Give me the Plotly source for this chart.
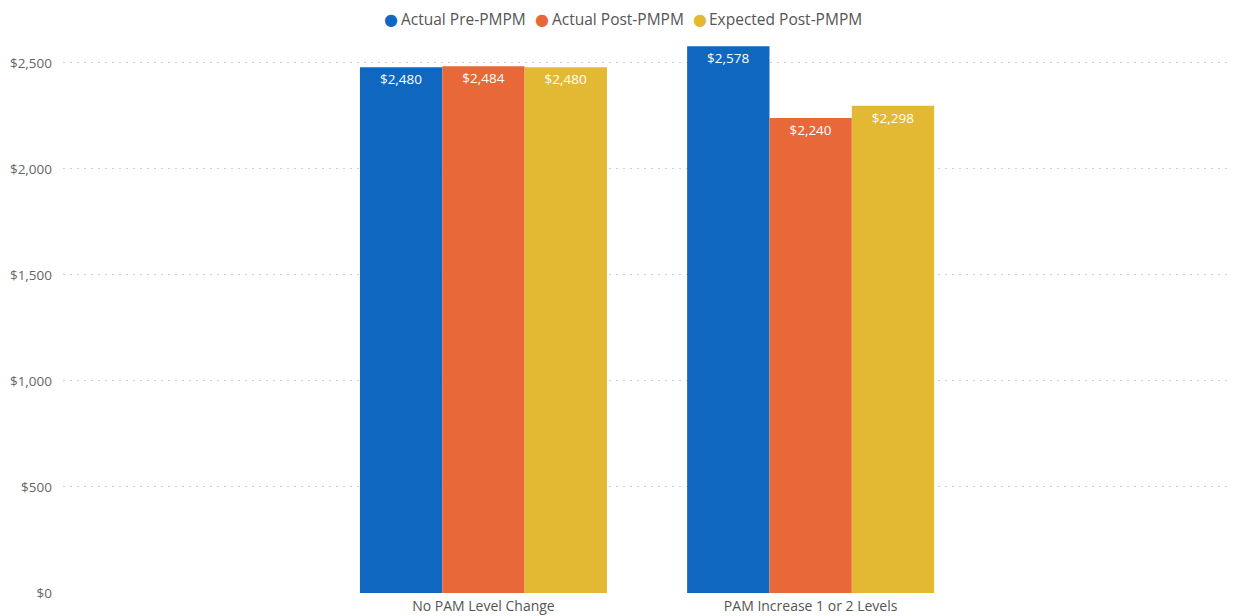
import plotly.graph_objects as go

categories = ["No PAM Level Change", "PAM Increase 1 or 2 Levels"]
series_names = ["Actual Pre-PMPM", "Actual Post-PMPM", "Expected Post-PMPM"]
actual_pre = [2480, 2578]
actual_post = [2484, 2240]
expected_post = [2480, 2298]
colors = ["#0F67C0", "#E8683A", "#E3B933"]
tick_vals = [0, 500, 1000, 1500, 2000, 2500]
tick_text = ["$0", "$500", "$1,000", "$1,500", "$2,000", "$2,500"]

FONT = "Open Sans"
fig = go.Figure()
for name, vals, col in zip(series_names, [actual_pre, actual_post, expected_post], colors):
    fig.add_trace(go.Bar(
        x=categories, y=vals, name=name, marker_color=col, marker_line_width=0,
        text=[f"${v:,}" for v in vals], textposition="inside", insidetextanchor="end",
        textfont=dict(color="white", size=13.5, family=FONT),
        showlegend=False, hoverinfo="x+y+name", constraintext="none",
    ))

# custom legend (circle markers placed like the reference's legend)
legend_marker_x = [0.2796, 0.4084, 0.5431]
legend_text_x = [0.2865, 0.4152, 0.5491]
legend_y = 1 + (40 - 19) / 553
for name, col, mx, tx in zip(series_names, colors, legend_marker_x, legend_text_x):
    fig.add_annotation(text="●", xref="paper", yref="paper", x=mx, y=legend_y,
                       xanchor="center", yanchor="middle", showarrow=False,
                       font=dict(family="DejaVu Sans", size=16, color=col))
    fig.add_annotation(text=name, xref="paper", yref="paper", x=tx, y=legend_y,
                       xanchor="left", yanchor="middle", showarrow=False,
                       font=dict(family=FONT, size=15.5, color="#555555"))

# page body adds an 8px offset, so the figure is sized to fit the visible window
fig.update_layout(
    width=1228, height=608,
    margin=dict(l=55, r=0, t=32, b=23),
    plot_bgcolor="white", paper_bgcolor="white",
    barmode="group", bargap=0.245, bargroupgap=0,
    font=dict(family=FONT, color="#666666", size=12),
    showlegend=False,
    xaxis=dict(type="category", range=[-1.285, 2.30], showgrid=False, showline=False,
               ticks="", automargin=False, ticklabelstandoff=3,
               tickfont=dict(size=14, color="#555555")),
    yaxis=dict(range=[0, 2608], tickvals=tick_vals, ticktext=tick_text,
               showgrid=True, gridcolor="#CFCFCF", griddash="2px,5px", gridwidth=1.2,
               zeroline=False, showline=False, ticks="", ticklabelstandoff=10,
               automargin=False, tickfont=dict(size=13.5, color="#666666")),
)

fig.write_html("out.html")
